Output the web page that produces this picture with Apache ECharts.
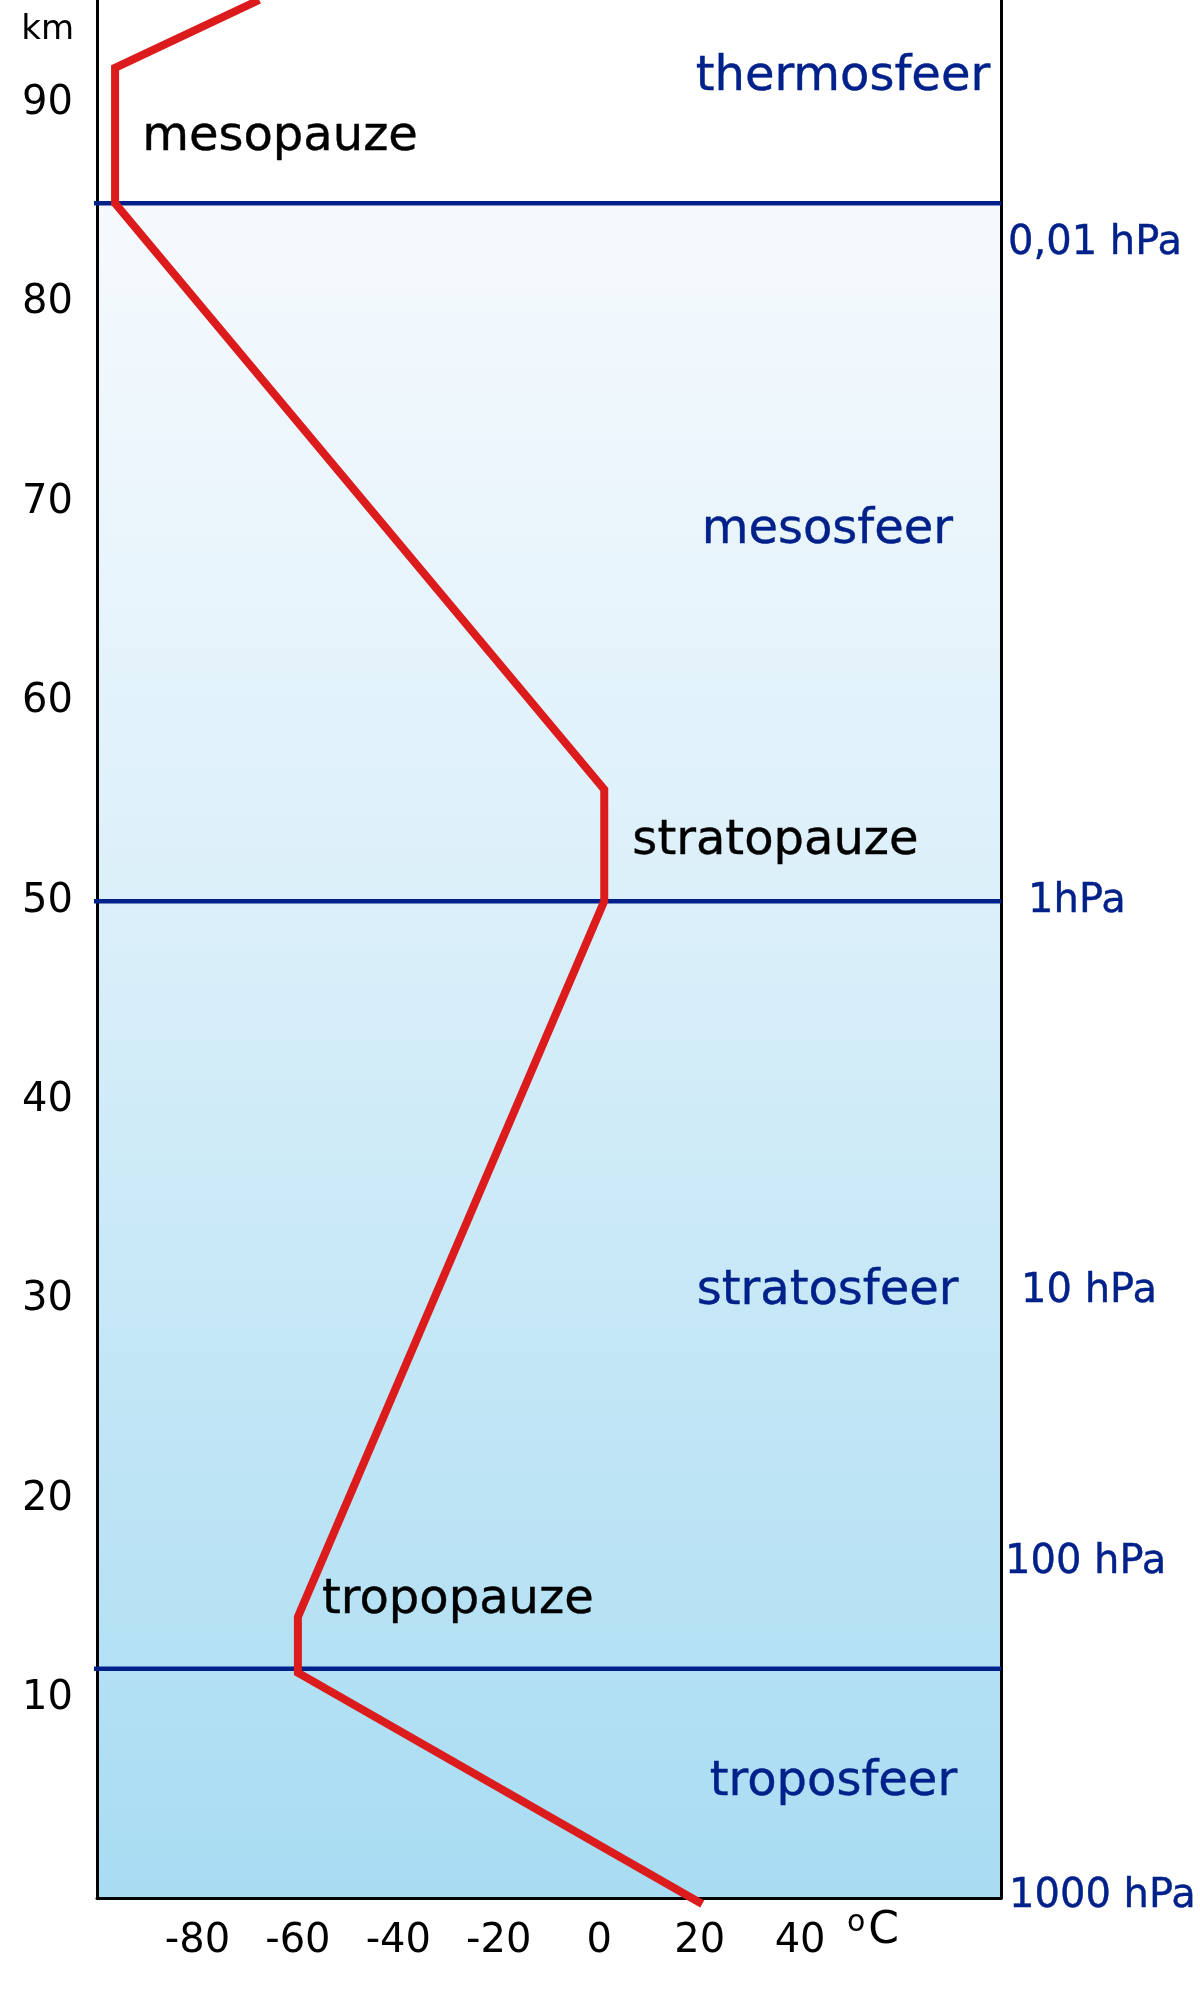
<!DOCTYPE html>
<html>
<head>
<meta charset="utf-8">
<script src="https://cdn.jsdelivr.net/npm/echarts@6/dist/echarts.min.js"></script>
<style>
  html, body { margin: 0; padding: 0; background: #fff; }
  #chart { width: 1200px; height: 2000px; }
</style>
</head>
<body>
<div id="chart"></div>
<script>
// temperatuurprofiel (°C tegen hoogte in km)
const tempC    = [-67.7, -96.4, -96.4, 1, 1, -60, -60, 20.5];
const heightKm = [95.2, 91.8, 85, 55.6, 50, 14.1, 11.3, -0.3];

// grenzen tussen de lagen (km)
const boundaryKm = [85, 50, 11.5];

// namen van de lagen en pauzes
const layerNames = ['thermosfeer', 'mesosfeer', 'stratosfeer', 'troposfeer'];
const layerAt    = [[19.2, 91.3], [20.4, 68.6], [19.4, 30.4], [22.0, 5.8]];
const pauseNames = ['mesopauze', 'stratopauze', 'tropopauze'];
const pauseAt    = [[-91.0, 88.3], [6.6, 53.0], [-55.2, 14.9]];

// drukniveaus rechts
const hPaLabels = ['0,01 hPa', '1hPa', '10 hPa', '100 hPa', '1000 hPa'];
const hPaAt     = [[81.4, 83.0], [85.4, 50.0], [84.0, 30.4], [80.8, 16.8], [81.6, 0.05]];

// tick labels
const xTicks = [-80, -60, -40, -20, 0, 20, 40];
const yTicks = [10, 20, 30, 40, 50, 60, 70, 80, 90];

const NAVY = '#00208a';
const RED = '#dc1c1c';
const FONT = 'DejaVu Sans';

var myChart = echarts.init(document.getElementById('chart'));

// tekst op een datapunt, zonder symbool
const textSeries = (names, pos, color, size) => ({
    type: 'scatter',
    symbolSize: 0,
    clip: false,
    silent: true,
    z: 10,
    itemStyle: { opacity: 1 },
    data: names.map((n, i) => ({ name: n, value: pos[i] })),
    label: {
        show: true,
        position: 'right',
        distance: 0,
        formatter: '{b}',
        opacity: 1,
        color: color,
        fontSize: size,
        fontFamily: FONT,
        textBorderColor: color,
        textBorderWidth: 0.4
    }
});

var option = {
    animation: false,
    grid: { left: 97, right: 199, top: 0, bottom: 102 },
    xAxis: {
        type: 'value',
        min: -100,
        max: 80,
        interval: 20,
        z: 8,
        axisLine: { show: true, onZero: false, lineStyle: { color: '#000', width: 3 } },
        axisTick: { show: false },
        splitLine: { show: false },
        axisLabel: {
            margin: 24,
            color: '#000',
            fontSize: 40,
            fontFamily: FONT,
            formatter: v => xTicks.includes(v) ? String(v) : ''
        }
    },
    yAxis: [{
        type: 'value',
        min: 0,
        max: 95.2,
        interval: 10,
        z: 8,
        name: 'km',
        nameLocation: 'end',
        nameGap: -30,
        nameTextStyle: {
            color: '#000', fontSize: 34, fontFamily: FONT,
            align: 'right', verticalAlign: 'middle', padding: [0, 23, 0, 0]
        },
        axisLine: { show: true, onZero: false, lineStyle: { color: '#000', width: 3 } },
        axisTick: { show: false },
        splitLine: { show: false },
        axisLabel: {
            margin: 24,
            color: '#000',
            fontSize: 40,
            fontFamily: FONT,
            showMaxLabel: false,
            formatter: v => yTicks.includes(v) ? String(v) : ''
        }
    }, {
        type: 'value',
        position: 'right',
        min: 0,
        max: 95.2,
        z: 8,
        axisLine: { show: true, onZero: false, lineStyle: { color: '#000', width: 3 } },
        axisTick: { show: false },
        axisLabel: { show: false },
        splitLine: { show: false }
    }],
    series: [
        {
            // achtergrond onder de mesopauze
            type: 'line',
            data: [],
            silent: true,
            z: 1,
            markArea: {
                silent: true,
                itemStyle: {
                    color: {
                        type: 'linear', x: 0, y: 0, x2: 0, y2: 1,
                        colorStops: [
                            { offset: 0, color: '#f6fafd' },
                            { offset: 0.4, color: '#dcf0fa' },
                            { offset: 1, color: '#a8dcf2' }
                        ]
                    }
                },
                data: [[{ yAxis: 0 }, { yAxis: boundaryKm[0] }]]
            }
        },
        ...boundaryKm.map(h => ({
            type: 'line',
            symbol: 'none',
            clip: false,
            silent: true,
            z: 9,
            lineStyle: { color: NAVY, width: 4.5 },
            data: [[-101.5, h], [80, h]]
        })),
        {
            type: 'line',
            symbol: 'none',
            clip: false,
            silent: true,
            z: 9,
            lineStyle: { color: RED, width: 8, join: 'miter' },
            data: tempC.map((t, i) => [t, heightKm[i]])
        },
        textSeries(layerNames, layerAt, NAVY, 48),
        textSeries(pauseNames, pauseAt, '#000', 48),
        textSeries(hPaLabels, hPaAt, NAVY, 40),
        {
            type: 'scatter',
            symbolSize: 0,
            clip: false,
            silent: true,
            itemStyle: { opacity: 1 },
            data: [{ name: 'C', value: [54.5, -1.7] }],
            label: {
                show: true,
                position: 'inside',
                opacity: 1,
                formatter: '{o|o}{c|C}',
                rich: {
                    o: { fontSize: 30, fontFamily: FONT, color: '#000', verticalAlign: 'top', padding: [0, 3, 18, 0] },
                    c: { fontSize: 44, fontFamily: FONT, color: '#000' }
                }
            }
        }
    ]
};

myChart.setOption(option);
</script>
</body>
</html>
